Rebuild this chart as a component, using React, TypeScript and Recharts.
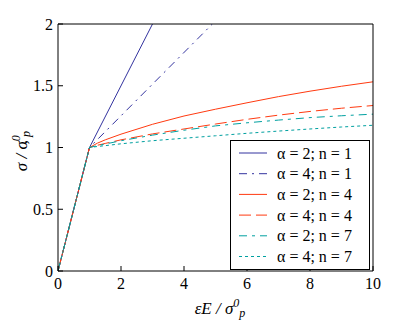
import React from 'react';
import { LineChart, Line, XAxis, YAxis } from 'recharts';

const W = 413;
const H = 327;
const FONT = 'Liberation Serif, DejaVu Serif, serif';

const BLUE = '#33339f';
const RED = '#ff3a10';
const TEAL = '#00a0a0';

// x values shared by the curved series (epsilon E / sigma_p^0)
const XS = [0, 1, 1.25, 1.5, 2, 3, 4, 5, 6, 7, 8, 9, 10];
const A2N4 = [0, 1, 1.035, 1.062, 1.108, 1.188, 1.255, 1.31, 1.362, 1.412, 1.456, 1.496, 1.532];
const A4N4 = [0, 1, 1.018, 1.033, 1.062, 1.11, 1.15, 1.19, 1.228, 1.262, 1.292, 1.318, 1.34];
const A2N7 = [0, 1, 1.015, 1.028, 1.055, 1.1, 1.14, 1.175, 1.2, 1.222, 1.242, 1.257, 1.27];
const A4N7 = [0, 1, 1.008, 1.015, 1.03, 1.055, 1.075, 1.095, 1.115, 1.133, 1.15, 1.166, 1.18];

// the n = 1 lines are straight and leave the top of the axes
const A2N1_X = [0, 1, 3];
const A2N1 = [0, 1, 2];
const A4N1_X = [0, 1, 4.9];
const A4N1 = [0, 1, 2];

const X_TICKS = [0, 2, 4, 6, 8, 10];
const Y_TICKS = [0, 0.5, 1, 1.5, 2];

const toRows = (xs: number[], ys: number[]) => xs.map((x, i) => ({ x, y: ys[i] }));

const SERIES = [
  { label: 'α = 2; n = 1', data: toRows(A2N1_X, A2N1), color: BLUE, dash: undefined },
  { label: 'α = 4; n = 1', data: toRows(A4N1_X, A4N1), color: BLUE, dash: '8 5 2 5' },
  { label: 'α = 2; n = 4', data: toRows(XS, A2N4), color: RED, dash: undefined },
  { label: 'α = 4; n = 4', data: toRows(XS, A4N4), color: RED, dash: '12 5' },
  { label: 'α = 2; n = 7', data: toRows(XS, A2N7), color: TEAL, dash: '8 5 3 5' },
  { label: 'α = 4; n = 7', data: toRows(XS, A4N7), color: TEAL, dash: '3 3' },
];

// plot box: x 58..373, y 24..271
const tickStyle = { fontFamily: FONT, fontSize: 16, fill: '#000', style: { fontFamily: FONT } };

export default function App() {
  return (
    <div
      style={{
        position: 'fixed',
        left: 0,
        top: 0,
        width: W,
        height: H,
        background: '#fff',
        fontFamily: FONT,
      }}
    >
      <LineChart
        width={W}
        height={H}
        margin={{ left: 18, top: 23, right: 39, bottom: 26 }}
        style={{ fontFamily: FONT }}
      >
        <XAxis
          xAxisId="b"
          type="number"
          dataKey="x"
          domain={[0, 10]}
          ticks={X_TICKS}
          allowDataOverflow
          height={30}
          stroke="#000"
          tickSize={-5}
          tickMargin={12}
          tick={tickStyle}
        />
        <XAxis
          xAxisId="t"
          orientation="top"
          type="number"
          dataKey="x"
          domain={[0, 10]}
          ticks={X_TICKS}
          height={1}
          stroke="#000"
          tickSize={-5}
          tickFormatter={() => ''}
        />
        <YAxis
          yAxisId="l"
          type="number"
          domain={[0, 2]}
          ticks={Y_TICKS}
          allowDataOverflow
          width={40}
          stroke="#000"
          tickSize={-5}
          tickMargin={10}
          tick={tickStyle}
        />
        <YAxis
          yAxisId="r"
          orientation="right"
          type="number"
          domain={[0, 2]}
          ticks={Y_TICKS}
          width={1}
          stroke="#000"
          tickSize={-5}
          tickFormatter={() => ''}
        />
        {SERIES.map((s) => (
          <Line
            key={s.label}
            xAxisId="b"
            yAxisId="l"
            data={s.data}
            dataKey="y"
            type="linear"
            stroke={s.color}
            strokeWidth={1}
            strokeDasharray={s.dash}
            dot={false}
            activeDot={false}
            isAnimationActive={false}
          />
        ))}
      </LineChart>
      <svg
        width={W}
        height={H}
        style={{ position: 'absolute', left: 0, top: 0, pointerEvents: 'none', fontFamily: FONT }}
      >
        {/* legend */}
        <rect x={230.5} y={140.5} width={139} height={129} fill="#fff" stroke="#000" strokeWidth={1} />
        {SERIES.map((s, i) => {
          const y = 153 + i * 20.7;
          return (
            <g key={s.label}>
              <line x1={239} x2={267} y1={y} y2={y} stroke={s.color} strokeDasharray={s.dash} />
              <text x={277} y={y + 5.5} fontSize={16} fill="#000">
                {s.label}
              </text>
            </g>
          );
        })}
        {/* axis titles */}
        <text x={220} y={314} fontSize={17} fontStyle="italic" textAnchor="middle" fill="#000">
          εE / σ
          <tspan fontSize={12} dy={-7}>0</tspan>
          <tspan fontSize={12} dy={10}>p</tspan>
        </text>
        <text
          transform="translate(27,151) rotate(-90)"
          fontSize={17}
          fontStyle="italic"
          textAnchor="middle"
          fill="#000"
        >
          σ / σ
          <tspan fontSize={12} dy={-7}>0</tspan>
          <tspan dy={7} dx={-9}>,</tspan>
          <tspan fontSize={12} dy={3} dx={3}>p</tspan>
        </text>
      </svg>
    </div>
  );
}
